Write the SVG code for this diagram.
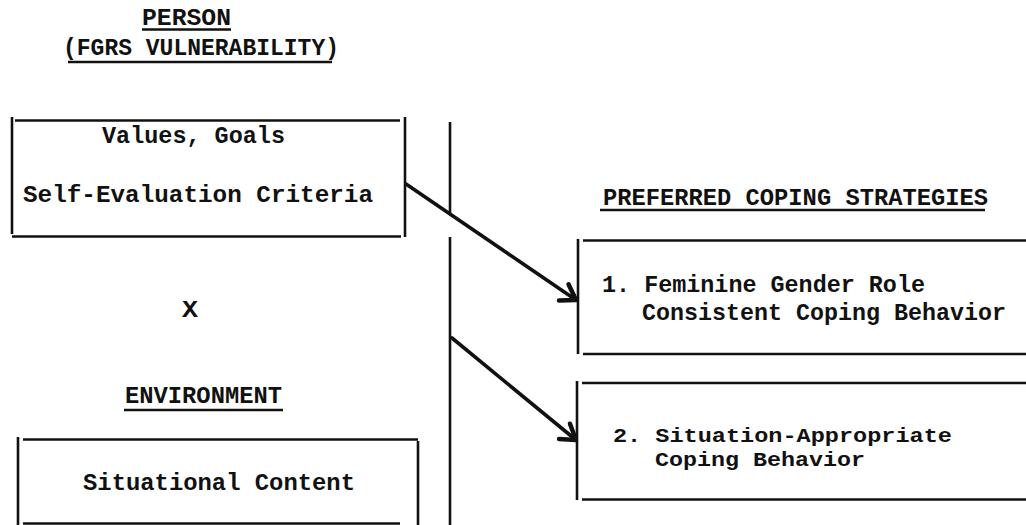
<svg xmlns="http://www.w3.org/2000/svg" width="1026" height="525" viewBox="0 0 1026 525">
  <style>
    .t { font-family: "Liberation Mono", "Courier New", monospace; font-weight: bold; font-size: 24px; fill: #111; }
    .t2 { font-size: 21px; }
    .ln { stroke: #111; stroke-width: 2.6; fill: none; stroke-linecap: butt; }
    .ul { stroke: #111; stroke-width: 2.4; fill: none; }
    .arr { stroke: #111; stroke-width: 3.6; fill: none; stroke-linecap: round; }
  </style>
  <defs>
    <marker id="open" markerUnits="userSpaceOnUse" markerWidth="30" markerHeight="30" viewBox="-16 -12 20 24" refX="0" refY="0" orient="auto">
      <path d="M -12 -7 L 0 0 L -11 8" fill="none" stroke="#111" stroke-width="3.6" stroke-linecap="round" stroke-linejoin="round"/>
    </marker>
  </defs>
  <rect width="1026" height="525" fill="#fff"/>

  <g id="person-heading">
    <text class="t" x="142" y="25" textLength="89" lengthAdjust="spacingAndGlyphs">PERSON</text>
    <line class="ul" x1="142" y1="29.5" x2="231" y2="29.5"/>
    <text class="t" x="63" y="55" textLength="276" lengthAdjust="spacingAndGlyphs">(FGRS VULNERABILITY)</text>
    <line class="ul" x1="68" y1="62" x2="332" y2="62"/>
  </g>

  <g id="person-box">
    <line class="ln" x1="12" y1="117" x2="12" y2="234"/>
    <line class="ln" x1="15" y1="120.5" x2="400" y2="120.5"/>
    <line class="ln" x1="405" y1="117" x2="405" y2="237"/>
    <line class="ln" x1="12" y1="236.5" x2="401" y2="236.5"/>
    <text class="t" x="102" y="143" textLength="183" lengthAdjust="spacingAndGlyphs">Values, Goals</text>
    <text class="t" x="23" y="202" textLength="350" lengthAdjust="spacingAndGlyphs">Self-Evaluation Criteria</text>
  </g>

  <g id="times">
    <text class="t" x="182" y="317" textLength="16" lengthAdjust="spacingAndGlyphs">X</text>
  </g>

  <g id="environment-heading">
    <text class="t" x="125" y="403" textLength="157" lengthAdjust="spacingAndGlyphs">ENVIRONMENT</text>
    <line class="ul" x1="124" y1="410" x2="283" y2="410"/>
  </g>

  <g id="environment-box">
    <line class="ln" x1="18" y1="437" x2="18" y2="525"/>
    <line class="ln" x1="23" y1="439.5" x2="418" y2="439.5"/>
    <line class="ln" x1="418" y1="441" x2="418" y2="525"/>
    <line class="ln" x1="23" y1="523.5" x2="400" y2="523.5"/>
    <text class="t" x="83" y="490" textLength="272" lengthAdjust="spacingAndGlyphs">Situational Content</text>
  </g>

  <g id="divider">
    <line class="ln" x1="450" y1="122" x2="450" y2="213"/>
    <line class="ln" x1="450" y1="237" x2="450" y2="525"/>
  </g>

  <g id="strategies-heading">
    <text class="t" x="603" y="205" textLength="385" lengthAdjust="spacingAndGlyphs">PREFERRED COPING STRATEGIES</text>
    <line class="ul" x1="600" y1="210" x2="985" y2="210"/>
  </g>

  <g id="strategy-1">
    <line class="ln" x1="578" y1="239" x2="578" y2="354"/>
    <line class="ln" x1="583" y1="240.5" x2="1026" y2="240.5"/>
    <line class="ln" x1="583" y1="354" x2="1026" y2="354"/>
    <text class="t" x="602" y="292" textLength="323" lengthAdjust="spacingAndGlyphs">1. Feminine Gender Role</text>
    <text class="t" x="642" y="320" textLength="364" lengthAdjust="spacingAndGlyphs">Consistent Coping Behavior</text>
  </g>

  <g id="strategy-2">
    <line class="ln" x1="577" y1="381" x2="577" y2="500"/>
    <line class="ln" x1="582" y1="383" x2="1026" y2="383"/>
    <line class="ln" x1="582" y1="499.5" x2="1026" y2="499.5"/>
    <text class="t t2" x="613" y="442" textLength="339" lengthAdjust="spacingAndGlyphs">2. Situation-Appropriate</text>
    <text class="t t2" x="655" y="466" textLength="210" lengthAdjust="spacingAndGlyphs">Coping Behavior</text>
  </g>

  <g id="connectors">
    <line class="arr" x1="406" y1="184" x2="576" y2="300" marker-end="url(#open)"/>
    <line class="arr" x1="452" y1="338" x2="576" y2="440" marker-end="url(#open)"/>
  </g>
</svg>
